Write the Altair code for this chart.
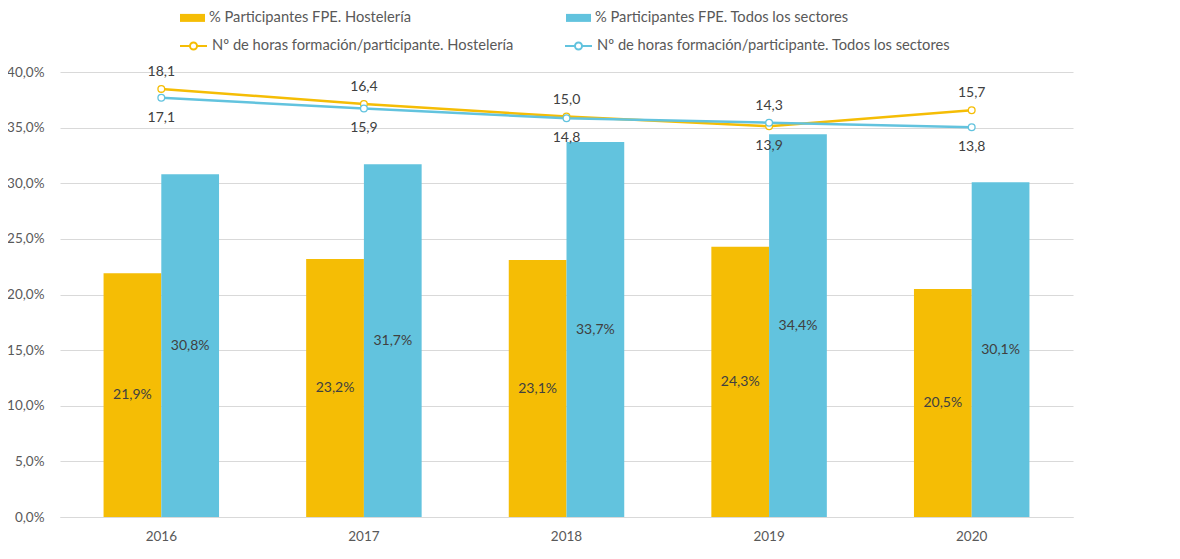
import altair as alt
import pandas as pd

# ---- data ----
years = ["2016", "2017", "2018", "2019", "2020"]
pct_hosteleria = [0.219, 0.232, 0.231, 0.243, 0.205]
pct_todos = [0.308, 0.317, 0.337, 0.344, 0.301]
horas_hosteleria = [18.1, 16.4, 15.0, 13.9, 15.7]
horas_todos = [17.1, 15.9, 14.8, 14.3, 13.8]

bar_names = ["% Participantes FPE. Hostelería", "% Participantes FPE. Todos los sectores"]
line_names = ["Nº de horas formación/participante. Hostelería",
              "Nº de horas formación/participante. Todos los sectores"]
y_ticks = [0.0, 0.05, 0.10, 0.15, 0.20, 0.25, 0.30, 0.35, 0.40]

YELLOW = "#F5BD05"
BLUE = "#62C3DE"
FONT = "Lato"
GREY_TXT = "#595959"
DARK_TXT = "#404040"

bars_df = pd.DataFrame(
    [{"year": y, "serie": bar_names[0], "pct": v} for y, v in zip(years, pct_hosteleria)]
    + [{"year": y, "serie": bar_names[1], "pct": v} for y, v in zip(years, pct_todos)]
)
lines_df = pd.DataFrame(
    [{"year": y, "serie": line_names[0], "horas": h, "above": h >= t}
     for y, h, t in zip(years, horas_hosteleria, horas_todos)]
    + [{"year": y, "serie": line_names[1], "horas": t, "above": t > h}
       for y, h, t in zip(years, horas_hosteleria, horas_todos)]
)

x_enc = alt.X(
    "year:N",
    sort=years,
    scale=alt.Scale(paddingInner=0.43, paddingOuter=0.215),
    axis=alt.Axis(title=None, labelAngle=0, ticks=False, domainColor="#d9d9d9",
                  labelPadding=12, labelFontSize=13.5, labelColor=GREY_TXT, labelFont=FONT),
)
xoff_enc = alt.XOffset("serie:N", scale=alt.Scale(domain=bar_names, paddingInner=0, paddingOuter=0))

y_bar = alt.Y(
    "pct:Q",
    scale=alt.Scale(domain=[0, 0.4], nice=False),
    axis=alt.Axis(title=None, values=y_ticks, grid=True, gridColor="#d9d9d9", domain=False,
                  ticks=False, labelPadding=16, labelFontSize=13.5, labelColor=GREY_TXT,
                  labelFont=FONT, labelExpr="replace(format(datum.value, '.1%'), '.', ',')"),
)

bars = alt.Chart(bars_df).mark_bar().encode(
    x=x_enc,
    xOffset=xoff_enc,
    y=y_bar,
    color=alt.Color(
        "serie:N",
        scale=alt.Scale(domain=bar_names, range=[YELLOW, BLUE]),
        legend=alt.Legend(
            title=None, orient="none", legendX=120, legendY=-67, direction="horizontal",
            symbolType="M-1,-0.32H1V0.32H-1Z", symbolSize=625, symbolStrokeWidth=0,
            labelFontSize=14.7, labelColor=GREY_TXT, labelFont=FONT, labelOffset=4,
            labelLimit=0, columnPadding=155, padding=0,
        ),
    ),
)

bar_text = alt.Chart(bars_df).transform_calculate(
    mid="datum.pct / 2",
    lbl="replace(format(datum.pct, '.1%'), '.', ',')",
).mark_text(fontSize=14, color=DARK_TXT, font=FONT).encode(
    x=x_enc,
    xOffset=xoff_enc,
    y=alt.Y("mid:Q"),
    text="lbl:N",
)

y_line = alt.Y("horas:Q", scale=alt.Scale(domain=[-30, 20], nice=False), axis=None)
stroke_enc = alt.Stroke(
    "serie:N",
    scale=alt.Scale(domain=line_names, range=[YELLOW, BLUE]),
    legend=alt.Legend(
        title=None, orient="none", legendX=119, legendY=-41, direction="horizontal",
        symbolType="M-1,0H-0.26M0.26,0H1M-0.26,0A0.26,0.26 0 1,1 0.26,0A0.26,0.26 0 1,1 -0.26,0Z",
        symbolSize=729, symbolStrokeWidth=2, symbolFillColor="white",
        labelFontSize=14.7, labelColor=GREY_TXT, labelFont=FONT, labelOffset=4,
        labelLimit=0, columnPadding=47, padding=0,
    ),
)

line = alt.Chart(lines_df).mark_line(strokeWidth=2.5).encode(
    x=x_enc, y=y_line, stroke=stroke_enc
)
pts = alt.Chart(lines_df).mark_point(shape="circle", filled=True, fill="white", size=45,
                                     strokeWidth=1.3, opacity=1).encode(
    x=x_enc, y=y_line, stroke=stroke_enc
)
lbl_calc = "replace(format(datum.horas, '.1f'), '.', ',')"
txt_above = alt.Chart(lines_df).transform_filter("datum.above").transform_calculate(
    lbl=lbl_calc
).mark_text(fontSize=14, color=DARK_TXT, font=FONT, dy=-17, baseline="middle").encode(
    x=x_enc, y=y_line, text="lbl:N"
)
txt_below = alt.Chart(lines_df).transform_filter("!datum.above").transform_calculate(
    lbl=lbl_calc
).mark_text(fontSize=14, color=DARK_TXT, font=FONT, dy=20, baseline="middle").encode(
    x=x_enc, y=y_line, text="lbl:N"
)

chart = alt.layer(
    alt.layer(bars, bar_text),
    alt.layer(line, pts, txt_above, txt_below),
).resolve_scale(y="independent").properties(
    width=1013,
    height=445,
    autosize=alt.AutoSizeParams(type="none"),
    padding={"left": 52, "top": 64, "right": 10, "bottom": 40},
).configure(background="white").configure_view(stroke=None)

chart.save("out.html", embed_options={"renderer": "svg", "actions": False})
